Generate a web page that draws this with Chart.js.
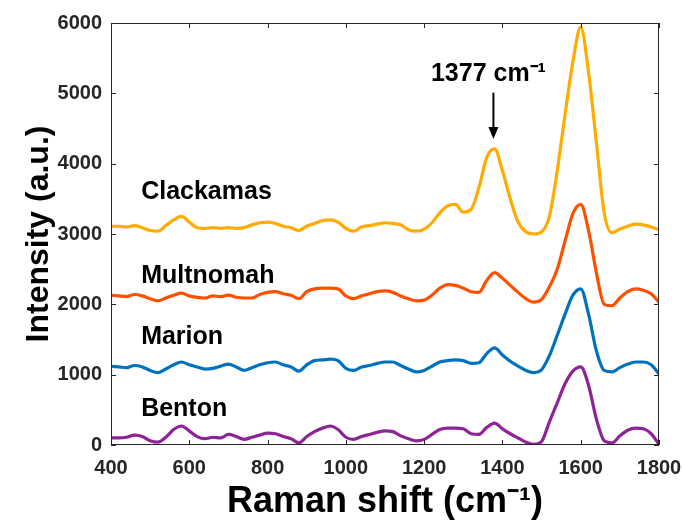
<!DOCTYPE html>
<html>
<head>
<meta charset="utf-8">
<script src="https://cdn.jsdelivr.net/npm/chart.js@4.4.0/dist/chart.umd.min.js"></script>
<style>
  html, body { margin: 0; padding: 0; background: #fff; }
  #wrap { width: 683px; height: 525px; }
</style>
</head>
<body>
<div id="wrap"><canvas id="ramanChart" width="683" height="525"></canvas></div>
<script>
// Raman shift (cm-1), one reading every 20 cm-1
const shift = [400, 420, 440, 460, 480, 500, 520, 540, 560, 580,
  600, 620, 640, 660, 680, 700, 720, 740, 760, 780,
  800, 820, 840, 860, 880, 900, 920, 940, 960, 980,
  1000, 1020, 1040, 1060, 1080, 1100, 1120, 1140, 1160, 1180,
  1200, 1220, 1240, 1260, 1280, 1300, 1320, 1340, 1360, 1380,
  1400, 1420, 1440, 1460, 1480, 1500, 1520, 1540, 1560, 1580,
  1600, 1620, 1640, 1660, 1680, 1700, 1720, 1740, 1760, 1780, 1800];

// intensities (offset spectra)
const clackamas = [3110, 3110, 3100, 3120, 3090, 3050, 3040, 3120, 3200, 3250,
  3170, 3090, 3080, 3090, 3080, 3090, 3080, 3090, 3130, 3160,
  3170, 3150, 3110, 3090, 3050, 3110, 3150, 3190, 3200, 3170,
  3080, 3040, 3100, 3120, 3140, 3160, 3150, 3130, 3060, 3040,
  3070, 3160, 3300, 3400, 3420, 3310, 3350, 3660, 4090, 4210,
  3900, 3500, 3170, 3030, 3000, 3030, 3250, 3900, 4700, 5450,
  5940, 5300, 4300, 3300, 3020, 3070, 3110, 3140, 3130, 3100, 3060];

const multnomah = [2130, 2120, 2110, 2140, 2120, 2080, 2050, 2090, 2130, 2160,
  2120, 2100, 2090, 2120, 2110, 2130, 2100, 2090, 2090, 2140,
  2170, 2180, 2150, 2130, 2080, 2180, 2220, 2230, 2230, 2220,
  2120, 2080, 2120, 2150, 2180, 2190, 2170, 2120, 2080, 2050,
  2060, 2130, 2230, 2280, 2270, 2230, 2180, 2170, 2340, 2450,
  2370, 2270, 2170, 2080, 2030, 2070, 2250, 2500, 2900, 3290,
  3420, 3050, 2450, 2000, 1980, 2090, 2180, 2220, 2200, 2150, 2030];

const marion = [1120, 1110, 1100, 1130, 1110, 1060, 1030, 1080, 1140, 1180,
  1140, 1110, 1080, 1090, 1120, 1150, 1110, 1060, 1100, 1140,
  1170, 1180, 1140, 1110, 1050, 1140, 1200, 1210, 1220, 1200,
  1090, 1060, 1110, 1130, 1160, 1180, 1180, 1130, 1080, 1040,
  1060, 1120, 1180, 1200, 1210, 1200, 1160, 1170, 1300, 1380,
  1280, 1190, 1120, 1060, 1030, 1070, 1270, 1560, 1860, 2130,
  2220, 1860, 1340, 1060, 1040, 1100, 1150, 1180, 1180, 1140, 1010];

const benton = [100, 100, 110, 140, 120, 60, 40, 110, 220, 270,
  200, 120, 90, 110, 100, 150, 120, 80, 110, 140,
  170, 160, 120, 90, 30, 120, 190, 240, 270, 220,
  110, 80, 120, 150, 180, 200, 190, 130, 90, 60,
  80, 150, 220, 240, 240, 230, 160, 150, 250, 310,
  230, 160, 100, 40, 10, 50, 330, 600, 870, 1050,
  1110, 850, 370, 60, 30, 130, 210, 240, 230, 160, 10];

const xTicks = [400, 600, 800, 1000, 1200, 1400, 1600, 1800];
const yTicks = [0, 1000, 2000, 3000, 4000, 5000, 6000];

// county names and where they sit (x of left edge, y of baseline)
const countyNames = ['Clackamas', 'Multnomah', 'Marion', 'Benton'];
const countyAt = [[477, 3500], [477, 2300], [477, 1440], [477, 410]];

// peak marker
const peakLabel = '1377 cm\u207B\u00B9';
const peakShift = 1377;
const peakLabelY = 5180;
const arrowFrom = 5010;
const arrowTo = 4350;

const colors = ['#FFAB00', '#FF5000', '#0072BD', '#8E2398'];
const seriesList = [clackamas, multnomah, marion, benton];

function pts(vals) {
  return shift.map((x, i) => ({ x: x, y: vals[i] }));
}

const fontFam = "'Liberation Sans', Arial, Helvetica, sans-serif";
const axisColor = '#262626';

const extras = {
  id: 'extras',
  afterDatasetsDraw(chart) {
    const ctx = chart.ctx;
    const xs = chart.scales.x;
    const ys = chart.scales.y;
    const a = chart.chartArea;
    ctx.save();

    // box and inward ticks
    ctx.strokeStyle = axisColor;
    ctx.lineWidth = 1;
    ctx.strokeRect(a.left + 0.5, a.top + 0.5, a.right - a.left - 1, a.bottom - a.top - 1);
    ctx.beginPath();
    xTicks.forEach(t => {
      const px = Math.round(xs.getPixelForValue(t)) + 0.5;
      ctx.moveTo(px, a.bottom);
      ctx.lineTo(px, a.bottom - 5);
      ctx.moveTo(px, a.top);
      ctx.lineTo(px, a.top + 5);
    });
    yTicks.forEach(t => {
      const py = Math.round(ys.getPixelForValue(t)) + 0.5;
      ctx.moveTo(a.left, py);
      ctx.lineTo(a.left + 5, py);
      ctx.moveTo(a.right, py);
      ctx.lineTo(a.right - 5, py);
    });
    ctx.stroke();

    // county labels
    ctx.fillStyle = '#000';
    ctx.font = 'bold 25px ' + fontFam;
    ctx.textAlign = 'left';
    ctx.textBaseline = 'alphabetic';
    countyNames.forEach((name, i) => {
      ctx.fillText(name, xs.getPixelForValue(countyAt[i][0]), ys.getPixelForValue(countyAt[i][1]));
    });

    // peak annotation
    const ax = xs.getPixelForValue(peakShift);
    ctx.textAlign = 'center';
    ctx.fillText(peakLabel, ax - 5, ys.getPixelForValue(peakLabelY));
    const y1 = ys.getPixelForValue(arrowFrom);
    const y2 = ys.getPixelForValue(arrowTo);
    ctx.strokeStyle = '#000';
    ctx.lineWidth = 2;
    ctx.beginPath();
    ctx.moveTo(ax, y1);
    ctx.lineTo(ax, y2 - 10);
    ctx.stroke();
    ctx.beginPath();
    ctx.moveTo(ax - 5, y2 - 12);
    ctx.lineTo(ax + 5, y2 - 12);
    ctx.lineTo(ax, y2);
    ctx.closePath();
    ctx.fill();

    ctx.restore();
  }
};

new Chart('ramanChart', {
  type: 'line',
  data: {
    datasets: seriesList.map((vals, i) => ({
      label: countyNames[i],
      data: pts(vals),
      borderColor: colors[i],
      borderWidth: 3.2,
      pointRadius: 0,
      fill: false,
      tension: 0.4,
      cubicInterpolationMode: 'monotone'
    }))
  },
  options: {
    responsive: false,
    animation: false,
    layout: { padding: { top: 23, right: 24, left: 0, bottom: 0 } },
    plugins: { legend: { display: false }, tooltip: { enabled: false } },
    scales: {
      x: {
        type: 'linear',
        min: 400,
        max: 1800,
        afterFit(s) { s.height = 80; s.paddingRight = 0; s.paddingLeft = 0; },
        afterBuildTicks(s) { s.ticks = xTicks.map(v => ({ value: v })); },
        grid: { display: false, drawTicks: false },
        border: { display: false },
        ticks: {
          color: axisColor,
          padding: 11,
          maxRotation: 0,
          callback: v => String(v),
          font: { family: fontFam, size: 20, weight: 'bold' }
        },
        title: {
          display: true,
          text: 'Raman shift (cm\u207B\u00B9)',
          color: '#000',
          padding: { top: 0, bottom: 1 },
          font: { family: fontFam, size: 36, weight: 'bold' }
        }
      },
      y: {
        min: 0,
        max: 6000,
        afterFit(s) { s.width = 111; s.paddingTop = 0; s.paddingBottom = 0; },
        afterBuildTicks(s) { s.ticks = yTicks.map(v => ({ value: v })); },
        grid: { display: false, drawTicks: false },
        border: { display: false },
        ticks: {
          color: axisColor,
          padding: 9,
          callback: v => String(v),
          font: { family: fontFam, size: 20, weight: 'bold' }
        },
        title: {
          display: true,
          text: 'Intensity (a.u.)',
          color: '#000',
          padding: { top: 20, bottom: 0 },
          font: { family: fontFam, size: 32, weight: 'bold' }
        }
      }
    }
  },
  plugins: [extras]
});
</script>
</body>
</html>
